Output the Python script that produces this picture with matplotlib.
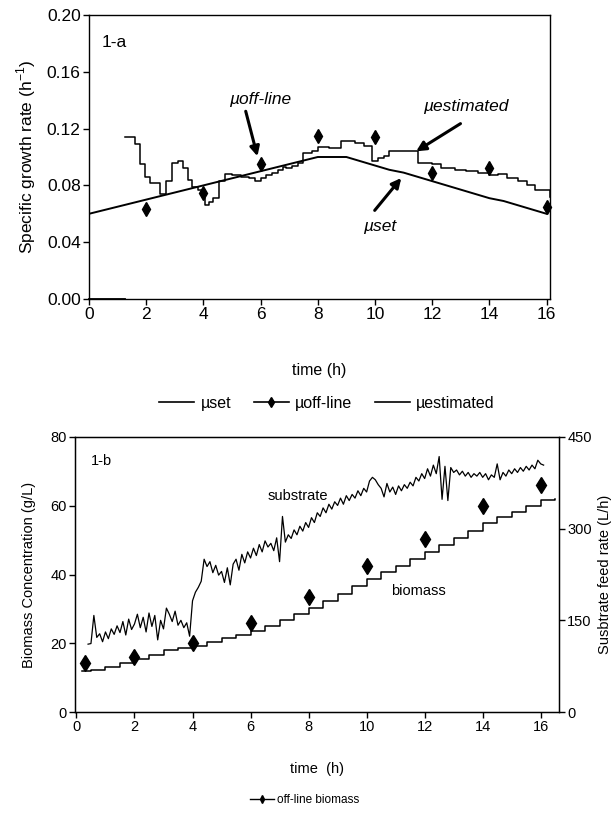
"""Two-panel fed-batch figure: specific growth rate (1-a) and biomass / substrate feed (1-b)."""

import matplotlib
matplotlib.use("Agg")
import matplotlib.pyplot as plt
from matplotlib import font_manager
from matplotlib.lines import Line2D
import numpy as np

_names = {f.name for f in font_manager.fontManager.ttflist}
NARROW = "Liberation Sans Narrow" if "Liberation Sans Narrow" in _names else "Liberation Sans"
plt.rcParams["font.family"] = ["Liberation Sans", "DejaVu Sans"]
plt.rcParams["mathtext.fontset"] = "custom"
plt.rcParams["mathtext.rm"] = "Liberation Sans"

# ---------------- panel 1-a data ----------------
MU_SET_T = [0, 0.5, 1, 1.5, 2, 2.5, 3, 3.5, 4, 4.5, 5, 5.5, 6, 6.5, 7, 7.5, 8,
            8.5, 9, 9.5, 10, 10.5, 11, 11.5, 12, 12.5, 13, 13.5, 14, 14.5, 15, 15.5, 16]
MU_SET = [0.060, 0.0625, 0.065, 0.0675, 0.070, 0.0725, 0.075, 0.0775, 0.080, 0.0825,
          0.085, 0.0875, 0.090, 0.0925, 0.095, 0.0975, 0.100, 0.100, 0.100, 0.097,
          0.094, 0.091, 0.089, 0.086, 0.083, 0.080, 0.077, 0.074, 0.071, 0.069,
          0.066, 0.063, 0.060]

MU_OFF_T = [2, 4, 6, 8, 10, 12, 14, 16]
MU_OFF = [0.0635, 0.0744, 0.0948, 0.1148, 0.1139, 0.0887, 0.0922, 0.0649]

MU_EST_T = [1.25, 1.6, 1.8, 1.95, 2.15, 2.5, 2.7, 2.9, 3.1, 3.3, 3.45, 3.6, 3.8, 4.0,
            4.05, 4.2, 4.35, 4.55, 4.75, 5.0, 5.3, 5.6, 5.8, 6.0, 6.2, 6.4, 6.6, 6.8,
            6.9, 7.1, 7.3, 7.5, 7.8, 8.0, 8.4, 8.8, 9.3, 9.6, 9.9, 10.1, 10.3, 10.5,
            11.5, 12.0, 12.3, 12.8, 13.2, 13.6, 14.0, 14.3, 14.6, 15.0, 15.3, 15.6, 16.12]
MU_EST = [0.114, 0.109, 0.095, 0.086, 0.082, 0.074, 0.083, 0.096, 0.097, 0.092, 0.084,
          0.079, 0.077, 0.071, 0.066, 0.068, 0.071, 0.083, 0.088, 0.087, 0.086, 0.085,
          0.083, 0.085, 0.087, 0.089, 0.091, 0.093, 0.092, 0.094, 0.096, 0.103, 0.104,
          0.107, 0.106, 0.111, 0.110, 0.108, 0.097, 0.099, 0.101, 0.104, 0.096, 0.095,
          0.092, 0.091, 0.090, 0.089, 0.087, 0.088, 0.085, 0.083, 0.080, 0.077, 0.072]
MU_EST_ZERO_END = 1.25

# ---------------- panel 1-b data ----------------
BIO_OFF_T = [0.3, 2, 4, 6, 8, 10, 12, 14, 16]
BIO_OFF = [14.4, 16.1, 20.0, 25.8, 33.4, 42.5, 50.4, 59.8, 66.0]

BIO_T = [0.2, 0.5, 1.0, 1.5, 2.0, 2.5, 3.0, 3.5, 4.0, 4.5, 5.0, 5.5, 6.0, 6.5, 7.0,
         7.5, 8.0, 8.5, 9.0, 9.5, 10.0, 10.5, 11.0, 11.5, 12.0, 12.5, 13.0, 13.5,
         14.0, 14.5, 15.0, 15.5, 16.0, 16.5]
BIO = [11.8, 12.2, 13.2, 14.3, 15.4, 16.6, 18.0, 18.5, 19.2, 20.4, 21.4, 22.4, 23.5,
       25.0, 26.8, 28.4, 30.2, 32.3, 34.4, 36.6, 38.8, 40.6, 42.5, 44.5, 46.5, 48.6,
       50.7, 52.8, 54.9, 56.6, 58.3, 60.0, 61.7, 61.9]

# substrate feed rate (L/h), sampled every 0.1 h from 0.4 h
SUB_T0 = 0.4
SUB_DT = 0.1
SUB = [111, 112, 158, 122, 128, 115, 131, 120, 136, 127, 141, 130, 148, 126, 152, 135,
       144, 160, 138, 155, 131, 162, 140, 158, 118, 150, 136, 170, 160, 148, 165, 142,
       150, 138, 146, 124, 182, 196, 204, 214, 250, 238, 246, 228, 240, 224, 230, 212,
       236, 208, 242, 250, 232, 258, 244, 262, 252, 268, 256, 274, 262, 280, 270, 276,
       264, 285, 246, 320, 278, 290, 284, 298, 290, 304, 296, 310, 302, 318, 310, 326,
       320, 334, 326, 340, 332, 344, 338, 350, 340, 354, 346, 356, 350, 362, 354, 366,
       360, 378, 384, 380, 372, 366, 352, 374, 360, 368, 356, 370, 362, 372, 366, 376,
       370, 384, 378, 390, 382, 398, 386, 404, 390, 418, 348, 402, 346, 400, 392, 396,
       388, 394, 386, 392, 384, 390, 386, 392, 384, 390, 380, 388, 384, 406, 380, 392,
       386, 396, 390, 398, 392, 400, 394, 402, 396, 404, 398, 412, 406, 404]

W, H = 614, 814
fig = plt.figure(figsize=(W / 100, H / 100), dpi=100)

# ================= panel 1-a =================
TOP_FS = 12.5
ax1 = fig.add_axes([89 / W, 1 - 299 / H, 461 / W, 284 / H])
ax1.plot(MU_SET_T, MU_SET, color="black", lw=1.4)
ax1.plot([0, MU_EST_ZERO_END], [0, 0], color="black", lw=1.3, clip_on=False)
ax1.plot(MU_EST_T, MU_EST, color="black", lw=1.1, drawstyle="steps-post")
ax1.plot(MU_OFF_T, MU_OFF, linestyle="None", marker="d", color="black", ms=7, clip_on=False)

ax1.set_xlim(0, 16.12)
ax1.set_ylim(0, 0.20)
ax1.set_xticks(np.arange(0, 17, 2))
ax1.set_yticks([0, 0.04, 0.08, 0.12, 0.16, 0.20])
ax1.set_yticklabels(["0.00", "0.04", "0.08", "0.12", "0.16", "0.20"])
ax1.tick_params(direction="out", length=4, width=1, labelsize=TOP_FS, pad=2)
for lab in ax1.get_xticklabels() + ax1.get_yticklabels():
    lab.set_family(NARROW)
ax1.set_ylabel("Specific growth rate (h$^{\\mathregular{-1}}$)", fontsize=TOP_FS, labelpad=6)
for sp in ax1.spines.values():
    sp.set_linewidth(1)

ax1.text(0.9, 0.1805, "1-a", fontsize=TOP_FS, family=NARROW, ha="center", va="center")

arrow = dict(arrowstyle="-|>", lw=2.2, color="black", mutation_scale=14, shrinkA=0, shrinkB=0)
ax1.annotate("", xy=(5.89, 0.1005), xytext=(5.48, 0.1322), arrowprops=arrow)
ax1.text(5.98, 0.1405, "µoff-line", style="italic", fontsize=TOP_FS, family=NARROW,
         ha="center", va="center")
ax1.annotate("", xy=(11.44, 0.104), xytext=(12.99, 0.1235), arrowprops=arrow)
ax1.text(13.18, 0.1358, "µestimated", style="italic", fontsize=TOP_FS, family=NARROW,
         ha="center", va="center")
ax1.annotate("", xy=(10.92, 0.0852), xytext=(9.99, 0.0624), arrowprops=arrow)
ax1.text(10.17, 0.0511, "µset", style="italic", fontsize=TOP_FS, family=NARROW,
         ha="center", va="center")

fig.text(319 / W, 1 - 370 / H, "time (h)", fontsize=TOP_FS - 1, family=NARROW,
         ha="center", va="center")
top_handles = [
    Line2D([0], [0], color="black", lw=1.2, label="µset"),
    Line2D([0], [0], color="black", lw=1.2, marker="d", ms=5, label="µoff-line"),
    Line2D([0], [0], color="black", lw=1.2, label="µestimated"),
]
fig.legend(handles=top_handles, loc="center", bbox_to_anchor=(327 / W, 1 - 403 / H), ncol=3,
           frameon=False, prop={"family": NARROW, "size": TOP_FS - 1},
           handlelength=2.2, handletextpad=0.4, columnspacing=1.4)

# ================= panel 1-b =================
BOT_FS = 10.5
ax2 = fig.add_axes([75 / W, 1 - 712 / H, 484 / W, 275 / H])
ax2.plot(BIO_T, BIO, color="black", lw=1.1, drawstyle="steps-post")
ax2.plot(BIO_OFF_T, BIO_OFF, linestyle="None", marker="d", color="black", ms=8.5)
ax2.set_xlim(-0.05, 16.63)
ax2.set_ylim(0, 80)
ax2.set_xticks(np.arange(0, 17, 2))
ax2.set_yticks([0, 20, 40, 60, 80])
ax2.tick_params(direction="out", length=4, width=1, labelsize=BOT_FS, pad=2)
ax2.set_ylabel("Biomass Concentration (g/L)", fontsize=BOT_FS, labelpad=10)
for sp in ax2.spines.values():
    sp.set_linewidth(1)

ax2r = ax2.twinx()
sub_t = SUB_T0 + SUB_DT * np.arange(len(SUB))
ax2r.plot(sub_t, SUB, color="black", lw=0.9)
ax2r.set_ylim(0, 450)
ax2r.set_yticks([0, 150, 300, 450])
ax2r.tick_params(direction="out", length=4, width=1, labelsize=BOT_FS, pad=2)
ax2r.set_ylabel("Susbtrate feed rate (L/h)", fontsize=BOT_FS, labelpad=4)

ax2.text(0.87, 73, "1-b", fontsize=BOT_FS, ha="center", va="center")
ax2.text(7.62, 62.8, "substrate", fontsize=BOT_FS, ha="center", va="center")
ax2.text(11.8, 35.1, "biomass", fontsize=BOT_FS, ha="center", va="center")

fig.text(317 / W, 1 - 769 / H, "time  (h)", fontsize=BOT_FS, ha="center", va="center")
bot_handles = [Line2D([0], [0], color="black", lw=1.0, marker="d", ms=4, label="off-line biomass")]
fig.legend(handles=bot_handles, loc="center", bbox_to_anchor=(305 / W, 1 - 800 / H),
           frameon=False, prop={"family": NARROW, "size": 8.5},
           handlelength=2.0, handletextpad=0.3)

fig.savefig("out.png", dpi=100)
